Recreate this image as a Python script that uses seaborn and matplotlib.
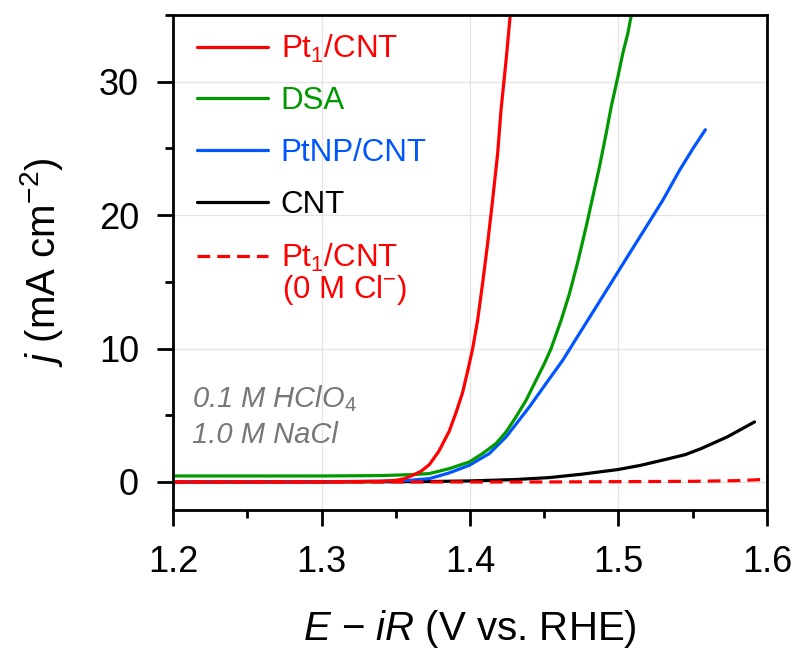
import numpy as np
import pandas as pd
import matplotlib
matplotlib.use("Agg")
import matplotlib.pyplot as plt
from matplotlib.ticker import MultipleLocator
from matplotlib.lines import Line2D
import seaborn as sns

# ---- data ----
pt1_E = [1.20, 1.30, 1.34, 1.35, 1.356, 1.3613, 1.367, 1.3726, 1.379, 1.386, 1.3906, 1.395,
         1.3984, 1.4018, 1.4051, 1.4085, 1.4119, 1.4152, 1.4186, 1.4209, 1.4243, 1.4275]
pt1_j = [0.0, 0.0, 0.05, 0.12, 0.25, 0.5, 0.8, 1.3, 2.3, 3.8, 5.2, 6.7,
         8.3, 10.0, 12.1, 14.9, 17.9, 21.1, 24.6, 27.9, 31.6, 35.5]

dsa_E = [1.20, 1.30, 1.34, 1.36, 1.3726, 1.386, 1.3995, 1.4085, 1.4175, 1.4243, 1.431, 1.4378,
         1.4445, 1.4501, 1.4546, 1.4614, 1.467, 1.4726, 1.4782, 1.4827, 1.4872, 1.4917,
         1.4951, 1.4996, 1.5029, 1.5063, 1.5095]
dsa_j = [0.45, 0.45, 0.48, 0.55, 0.63, 1.0, 1.5, 2.13, 2.88, 3.75, 4.88, 6.13,
         7.63, 8.88, 10.0, 12.13, 14.13, 16.5, 19.13, 21.38, 23.63, 26.13,
         28.13, 30.38, 32.13, 33.63, 35.5]

ptnp_E = [1.20, 1.30, 1.34, 1.36, 1.3726, 1.386, 1.3995, 1.413, 1.4243, 1.44, 1.4512, 1.4625,
          1.4737, 1.485, 1.4962, 1.5074, 1.5187, 1.5299, 1.5412, 1.5502, 1.5585]
ptnp_j = [0.0, 0.02, 0.06, 0.13, 0.25, 0.68, 1.25, 2.13, 3.38, 5.63, 7.38, 9.13,
          11.13, 13.13, 15.13, 17.13, 19.13, 21.13, 23.38, 25.0, 26.4]

cnt_E = [1.20, 1.30, 1.37, 1.40, 1.43, 1.4535, 1.475, 1.4995, 1.515, 1.5321, 1.545, 1.5556,
         1.5736, 1.5916]
cnt_j = [0.0, 0.0, 0.03, 0.08, 0.18, 0.33, 0.58, 0.93, 1.25, 1.7, 2.05, 2.5, 3.4, 4.5]

pt1_0cl_E = [1.20, 1.45, 1.55, 1.58, 1.60]
pt1_0cl_j = [0.0, 0.0, 0.05, 0.1, 0.2]

labels = ["Pt$_1$/CNT", "DSA", "PtNP/CNT", "CNT", "Pt$_1$/CNT"]
x_ticks = [1.2, 1.3, 1.4, 1.5, 1.6]
y_ticks = [0, 10, 20, 30]

# ---- style ----
sns.set_style("white")
plt.rcParams["font.family"] = ["Liberation Sans", "DejaVu Sans"]
plt.rcParams["mathtext.fontset"] = "custom"
plt.rcParams["mathtext.rm"] = "Liberation Sans"
plt.rcParams["mathtext.it"] = "Liberation Sans:italic"
plt.rcParams["mathtext.bf"] = "Liberation Sans:bold"
plt.rcParams["text.color"] = "black"
plt.rcParams["axes.labelcolor"] = "black"
plt.rcParams["xtick.color"] = "black"
plt.rcParams["ytick.color"] = "black"

fig = plt.figure(figsize=(7.96, 6.54), dpi=100)
ax = fig.add_axes([173/796, 1 - 510/654, 594/796, 495/654])

LW = 2.3
series = [
    (pt1_E, pt1_j, "#FF0000", "-"),
    (dsa_E, dsa_j, "#009A00", "-"),
    (ptnp_E, ptnp_j, "#0055FF", "-"),
    (cnt_E, cnt_j, "#000000", "-"),
    (pt1_0cl_E, pt1_0cl_j, "#FF0000", (0, (4, 2.2))),
]
for i in [3, 2, 1, 0, 4]:
    E, j, c, ls = series[i]
    df = pd.DataFrame({"E": E, "j": j})
    sns.lineplot(data=df, x="E", y="j", ax=ax, color=c, linestyle=ls,
                 linewidth=LW, estimator=None, sort=False)

ax.set_xlim(1.2, 1.6)
ax.set_ylim(-2.1, 35)
ax.set_xticks(x_ticks)
ax.set_yticks(y_ticks)
ax.set_xticklabels([f"{v:.1f}" for v in x_ticks])
ax.xaxis.set_minor_locator(MultipleLocator(0.05))
ax.yaxis.set_minor_locator(MultipleLocator(5))
ax.grid(True, which="major", color="#E3E3E3", linewidth=0.9)
ax.set_axisbelow(True)

for s in ax.spines.values():
    s.set_visible(True)
    s.set_color("black")
    s.set_linewidth(2.0)

ax.tick_params(axis="both", which="major", direction="out", length=11.5, width=2.0,
               labelsize=26, color="black", bottom=True, left=True)
ax.tick_params(axis="x", which="major", pad=14)
ax.tick_params(axis="y", which="major", pad=13)
ax.tick_params(axis="both", which="minor", direction="out", length=6, width=2.0,
               color="black", bottom=True, left=True)

ax.set_xlabel(r"$\it{E}$ − $\it{iR}$ (V vs. RHE)", fontsize=29, labelpad=20)
ax.set_ylabel(r"$\it{j}$ (mA cm$^{-2}$)", fontsize=29, labelpad=24)

handles = [Line2D([], [], color=c, linestyle=ls, linewidth=LW) for (_, _, c, ls) in series]
leg = ax.legend(handles, labels, loc="upper left", bbox_to_anchor=(0.02, 0.99),
                frameon=False, fontsize=22.5, handlelength=2.25, handletextpad=0.42,
                labelspacing=0.7, borderaxespad=0)
for t, (_, _, c, _) in zip(leg.get_texts(), series):
    t.set_color(c)

ax.text(0.1835, 0.444, "(0 M Cl$^{-}$)", transform=ax.transAxes, color="#FF0000",
        fontsize=22.5, va="center", ha="left")

ax.text(0.032, 0.19, "0.1 M HClO$_4$\n1.0 M NaCl", transform=ax.transAxes,
        color="#777777", fontsize=21, style="italic", va="center", ha="left",
        linespacing=1.3)

fig.savefig("out.png", dpi=100)
